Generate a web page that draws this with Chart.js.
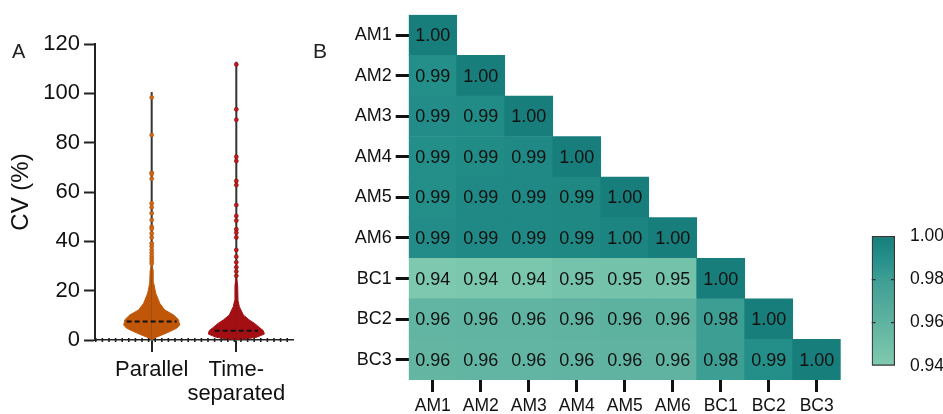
<!DOCTYPE html>
<html><head><meta charset="utf-8">
<script src="https://cdn.jsdelivr.net/npm/chart.js@4.4.1/dist/chart.umd.min.js"></script>
<style>
html,body{margin:0;padding:0;background:#fff;}
#wrap{position:relative;width:943px;height:414px;overflow:hidden;font-family:"Liberation Sans",Arial,sans-serif;}
.panel{position:absolute;line-height:1;color:#222;}
canvas{position:absolute;top:0;}
</style></head><body>
<div id="wrap">
<canvas id="cA" width="310" height="414" style="left:0"></canvas>
<canvas id="cB" width="560" height="414" style="left:310px"></canvas>
<canvas id="cC" width="83" height="414" style="left:860px"></canvas>
<div class="panel" style="left:12px;top:41px;font-size:20px">A</div>
<div class="panel" style="left:313px;top:40px;font-size:21px">B</div>
</div>
<script>
// ---------- Panel A data ----------
const groups = ['Parallel', ['Time-', 'separated']];
const cvTicks = [0, 20, 40, 60, 80, 100, 120];
// violin outline: CV level (%) and half width (in group units)
const parallelLevels    = [0, 0.7, 2.0, 3.4, 4.8, 6.1, 7.5, 8.1, 10.1, 12.2, 14.9, 19, 23, 28, 31];
const parallelHalfWidth = [0, 0.024, 0.118, 0.213, 0.296, 0.331, 0.320, 0.320, 0.260, 0.154, 0.095, 0.047, 0.024, 0.018, 0];
const timeSepLevels     = [0, 0.3, 1.1, 2.4, 3.8, 5.1, 6.8, 8.1, 10.1, 13.5, 16, 22, 26];
const timeSepHalfWidth  = [0.05, 0.079, 0.237, 0.331, 0.320, 0.272, 0.213, 0.154, 0.083, 0.036, 0.020, 0.016, 0];
const groupMedians = [7.5, 3.8];
const medianHalfWidth = [0.296, 0.256];
const groupMax = [100.5, 112.8];
const parallelOutliers = [98.3, 83.1, 67.8, 67.3, 65.4, 55.4, 53.8, 51.4, 48.6, 45.9, 45.1, 43.2, 41.6, 39.2, 38.0, 36.5, 35.3, 34.1, 33.0, 32.0, 31.0];
const timeSepOutliers = [111.7, 93.5, 89.3, 74.3, 72.6, 64.5, 62.8, 54.7, 50.3, 48.4, 44.9, 43.5, 41.6, 36.5, 33.8, 31.5, 29.5, 27.8, 26.0];

// ---------- Panel B data ----------
const cellVars = ['AM1', 'AM2', 'AM3', 'AM4', 'AM5', 'AM6', 'BC1', 'BC2', 'BC3'];
const corr = [
  [1.000],
  [0.990, 1.000],
  [0.991, 0.992, 1.000],
  [0.990, 0.992, 0.993, 1.000],
  [0.990, 0.993, 0.993, 0.994, 1.000],
  [0.991, 0.993, 0.993, 0.994, 0.996, 1.000],
  [0.942, 0.943, 0.943, 0.946, 0.947, 0.947, 1.000],
  [0.958, 0.959, 0.959, 0.960, 0.961, 0.961, 0.980, 1.000],
  [0.957, 0.958, 0.958, 0.959, 0.960, 0.960, 0.980, 0.990, 1.000]
];
const scaleTicks = [0.94, 0.96, 0.98, 1.00];
const scaleRange = [0.94, 1.00];

// ---------- styles ----------
const FONT = '"Liberation Sans", Arial, sans-serif';
Chart.defaults.font.family = FONT;
Chart.defaults.color = '#111';
const groupColors = ['#c05708', '#a30f13'];
const dotColors = ['#d36a12', '#c41a1a'];
const dotEdges = ['#a84a06', '#7e0a0a'];
const cmapStops = [0.94, 0.96, 0.98, 0.99, 1.00];
const cmapColors = [[128, 202, 176], [95, 179, 160], [61, 158, 148], [36, 142, 137], [23, 126, 123]];

function cmap(v) {
  if (v <= cmapStops[0]) return rgb(cmapColors[0]);
  for (let i = 1; i < cmapStops.length; i++) {
    if (v <= cmapStops[i]) {
      const t = (v - cmapStops[i - 1]) / (cmapStops[i] - cmapStops[i - 1]);
      const a = cmapColors[i - 1], b = cmapColors[i];
      return rgb([0, 1, 2].map(k => a[k] + (b[k] - a[k]) * t));
    }
  }
  return rgb(cmapColors[cmapColors.length - 1]);
}
function rgb(c) { return 'rgb(' + c.map(x => Math.round(x)).join(',') + ')'; }

// ---------- Chart A ----------
const xMin = 0.33, xMax = 2.67;
const violinSets = [[parallelLevels, parallelHalfWidth], [timeSepLevels, timeSepHalfWidth]];
const outlierSets = [parallelOutliers, timeSepOutliers];
const dsA = [];
groups.forEach((g, gi) => {
  const c = gi + 1;
  const [lv, hw] = violinSets[gi];
  [-1, 1].forEach(side => {
    dsA.push({
      data: lv.map((v, k) => ({x: c + side * hw[k], y: v})),
      fill: {value: c}, backgroundColor: groupColors[gi], borderColor: groupColors[gi],
      borderWidth: 1, pointRadius: 0, order: 2
    });
  });
  dsA.push({
    data: [{x: c, y: 0}, {x: c, y: groupMax[gi]}],
    borderColor: '#333', borderWidth: 2, pointRadius: 0, fill: false, order: 3
  });
  dsA.push({
    data: [{x: c - medianHalfWidth[gi], y: groupMedians[gi]}, {x: c + medianHalfWidth[gi], y: groupMedians[gi]}],
    borderColor: '#111', borderWidth: 2, borderDash: [5, 3], pointRadius: 0, fill: false, order: 1
  });
  dsA.push({
    data: outlierSets[gi].map(v => ({x: c, y: v})),
    showLine: false, pointRadius: 2, pointBackgroundColor: dotColors[gi], pointBorderColor: dotEdges[gi],
    pointBorderWidth: 0.6, fill: false, order: 0
  });
});
dsA.push({
  data: [{x: xMin, y: 0}, {x: xMax, y: 0}],
  borderColor: '#222', borderWidth: 4, borderDash: [1.6, 5], pointRadius: 0, fill: false, clip: false, order: -1
});

new Chart(document.getElementById('cA'), {
  type: 'line',
  data: {datasets: dsA},
  options: {
    responsive: false, animation: false, indexAxis: 'y',
    layout: {padding: {top: 44, left: 0, right: 17, bottom: 0}},
    plugins: {legend: {display: false}, tooltip: {enabled: false}},
    scales: {
      x: {
        type: 'linear', min: xMin, max: xMax, position: 'bottom',
        afterBuildTicks: s => { s.ticks = groups.map((_, i) => ({value: i + 1})); },
        afterFit: s => { s.height = 74; },
        ticks: {callback: (v, i) => groups[i], font: {size: 22, lineHeight: 1.1}, color: '#111', padding: 6, maxRotation: 0, autoSkip: false},
        grid: {drawOnChartArea: false, tickLength: 12, tickWidth: 2, tickColor: '#222', lineWidth: 2, color: '#222'},
        border: {color: '#222', width: 1.5}
      },
      y: {
        type: 'linear', min: 0, max: 120, position: 'left',
        afterBuildTicks: s => { s.ticks = cvTicks.map(v => ({value: v})); },
        afterFit: s => { s.width = 95; },
        ticks: {font: {size: 22}, color: '#111', padding: 4},
        grid: {drawOnChartArea: false, tickLength: 11, tickWidth: 2, tickColor: '#222'},
        border: {color: '#222', width: 2},
        title: {display: true, text: 'CV (%)', font: {size: 24}, color: '#111', padding: {top: 7, bottom: 0}}
      }
    }
  }
});

// ---------- Chart B ----------
const n = cellVars.length;
const dsB = [];
for (let r = n - 1; r >= 0; r--) {
  dsB.push({
    rowIndex: r,
    data: cellVars.map((_, c) => c <= r ? 1 : null),
    backgroundColor: cellVars.map((_, c) => c <= r ? cmap(corr[r][c]) : 'transparent'),
    borderWidth: 0, categoryPercentage: 1, barPercentage: 1
  });
}
const cellLabels = {
  id: 'cellLabels',
  afterDatasetsDraw(chart) {
    const ctx = chart.ctx;
    ctx.save();
    ctx.font = '18px ' + FONT;
    ctx.fillStyle = '#111';
    ctx.textAlign = 'center';
    ctx.textBaseline = 'middle';
    chart.data.datasets.forEach((ds, di) => {
      const meta = chart.getDatasetMeta(di);
      meta.data.forEach((el, c) => {
        if (ds.data[c] == null) return;
        const p = el.getCenterPoint();
        ctx.fillText(corr[ds.rowIndex][c].toFixed(2), p.x, p.y + 1);
      });
    });
    ctx.restore();
  }
};
new Chart(document.getElementById('cB'), {
  type: 'bar',
  data: {labels: cellVars, datasets: dsB},
  plugins: [cellLabels],
  options: {
    responsive: false, animation: false,
    layout: {padding: {top: 13.3, left: 0, right: 29.3, bottom: 0}},
    plugins: {legend: {display: false}, tooltip: {enabled: false}},
    scales: {
      x: {
        type: 'category', stacked: true, offset: true,
        afterFit: s => { s.height = 34; },
        ticks: {font: {size: 17.5}, color: '#111', padding: 4, maxRotation: 0, autoSkip: false},
        grid: {offset: false, drawOnChartArea: false, tickLength: 12, tickWidth: 3, tickColor: '#111'},
        border: {display: false}
      },
      y: {
        type: 'linear', stacked: true, min: 0, max: n,
        afterBuildTicks: s => { s.ticks = cellVars.map((_, i) => ({value: i + 0.5})); },
        afterFit: s => { s.width = 98.7; },
        ticks: {callback: (v, i) => cellVars[n - 1 - i], font: {size: 18}, color: '#111', padding: 4},
        grid: {drawOnChartArea: false, tickLength: 13, tickWidth: 3, tickColor: '#111'},
        border: {display: false}
      }
    }
  }
});

// ---------- Chart C (colour scale) ----------
new Chart(document.getElementById('cC'), {
  type: 'bar',
  data: {
    labels: [''],
    datasets: [{
      data: [scaleRange],
      backgroundColor: (ctx) => {
        const ch = ctx.chart;
        if (!ch.chartArea || !ch.scales.y) return cmap(1);
        const ys = ch.scales.y;
        const g = ch.ctx.createLinearGradient(0, ys.getPixelForValue(scaleRange[0]), 0, ys.getPixelForValue(scaleRange[1]));
        cmapStops.forEach((s, i) => g.addColorStop((s - scaleRange[0]) / (scaleRange[1] - scaleRange[0]), rgb(cmapColors[i])));
        return g;
      },
      borderColor: '#333', borderWidth: 1.5, borderSkipped: false,
      categoryPercentage: 1, barPercentage: 1
    }]
  },
  options: {
    responsive: false, animation: false,
    layout: {padding: {top: 236, left: 11.7, right: 0, bottom: 48.3}},
    plugins: {legend: {display: false}, tooltip: {enabled: false}},
    scales: {
      x: {display: false, offset: true},
      y: {
        position: 'right', min: scaleRange[0], max: scaleRange[1], z: 1,
        afterBuildTicks: s => { s.ticks = scaleTicks.map(v => ({value: v})); },
        afterFit: s => { s.width = 48; },
        ticks: {callback: v => v.toFixed(2), font: {size: 17.5}, color: '#111', padding: 15},
        grid: {drawTicks: false, z: 1, lineWidth: 1.3,
          color: ctx => (ctx.tick && ctx.tick.value > scaleRange[0] + 0.001 && ctx.tick.value < scaleRange[1] - 0.001) ? '#333' : 'rgba(0,0,0,0)'},
        border: {display: false, dash: [4, 15.3]}
      }
    }
  }
});
</script>
</body></html>
